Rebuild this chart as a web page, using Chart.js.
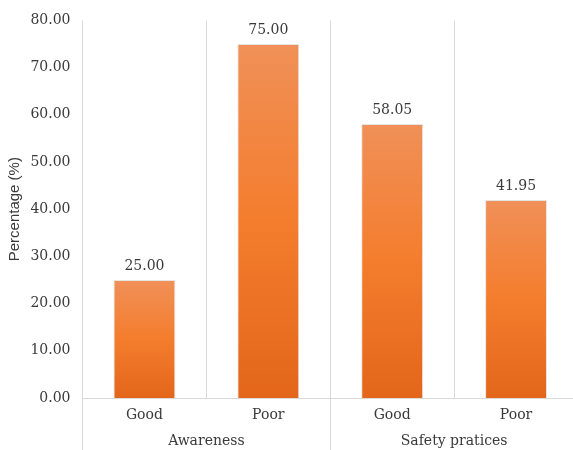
<!DOCTYPE html>
<html>
<head>
<meta charset="utf-8">
<script src="https://cdn.jsdelivr.net/npm/chart.js@4"></script>
<style>
  html, body { margin: 0; padding: 0; background: #fff; overflow: hidden; }
  #wrap { width: 578px; height: 450px; }
</style>
</head>
<body>
<div id="wrap"><canvas id="chart"></canvas></div>
<script>
const categories = ["Good", "Poor", "Good", "Poor"];
const groups = ["Awareness", "Safety pratices"];
const percentages = [25.00, 75.00, 58.05, 41.95];
const yTicks = [0, 10, 20, 30, 40, 50, 60, 70, 80];

const serif = "'DejaVu Serif', serif";
const lineColor = "#d9d9d9";
const textColor = "#3a3a3a";

// per-bar vertical gradient, light on top
function barGradient(ctx) {
    const chart = ctx.chart;
    if (!chart.chartArea) return "#f47b2a";
    const y = chart.scales.y;
    const top = y.getPixelForValue(ctx.raw);
    const bottom = y.getPixelForValue(0);
    const g = chart.ctx.createLinearGradient(0, top, 0, bottom);
    g.addColorStop(0, "#f09058");
    g.addColorStop(0.5, "#f47d2d");
    g.addColorStop(1, "#e3661b");
    return g;
}

// draw value labels above bars
const valueLabels = {
    id: "valueLabels",
    afterDatasetsDraw(chart) {
        const ctx = chart.ctx;
        const meta = chart.getDatasetMeta(0);
        ctx.save();
        ctx.font = "14px " + serif;
        ctx.fillStyle = textColor;
        ctx.textAlign = "center";
        ctx.textBaseline = "middle";
        meta.data.forEach((bar, i) => {
            ctx.fillText(percentages[i].toFixed(2), bar.x, bar.y - 14);
        });
        ctx.restore();
    }
};

// show only group separator ticks below the axis
function sepTick(ctx) {
    if (ctx.index === undefined || ctx.index % 2 === 0) return lineColor;
    return "rgba(0,0,0,0)";
}

new Chart(document.getElementById("chart"), {
    type: "bar",
    data: {
        labels: categories,
        datasets: [{
            data: percentages,
            backgroundColor: barGradient,
            borderColor: "rgba(180,180,180,0.35)",
            borderWidth: 1,
            borderSkipped: "bottom",
            barPercentage: 0.5,
            categoryPercentage: 1.0
        }]
    },
    options: {
        responsive: true,
        maintainAspectRatio: false,
        animation: false,
        layout: { padding: { top: 12, right: 0, left: 0, bottom: 0 } },
        plugins: {
            legend: { display: false },
            tooltip: { enabled: false }
        },
        scales: {
            y: {
                min: 0,
                max: 80,
                afterBuildTicks: axis => { axis.ticks = yTicks.map(v => ({ value: v })); },
                afterFit: axis => { axis.width = 82.5; },
                grid: { display: false, drawTicks: false },
                border: { display: false },
                ticks: {
                    padding: 12,
                    color: textColor,
                    font: { family: serif, size: 14 },
                    callback: v => Number(v).toFixed(2)
                },
                title: {
                    display: true,
                    text: "Percentage (%)",
                    color: textColor,
                    font: { family: "'Liberation Sans', Arial, sans-serif", size: 15 },
                    padding: { top: 6, bottom: 0 }
                }
            },
            x: {
                afterFit: axis => { axis.height = 25; },
                grid: {
                    offset: true,
                    color: lineColor,
                    tickColor: sepTick,
                    tickLength: 52
                },
                border: { display: true, color: lineColor },
                ticks: {
                    padding: -43,
                    color: textColor,
                    font: { family: serif, size: 14 }
                }
            },
            x2: {
                type: "category",
                labels: groups,
                position: "bottom",
                offset: true,
                afterFit: axis => { axis.height = 27; },
                grid: { display: false, drawTicks: false },
                border: { display: false },
                ticks: {
                    padding: 10,
                    color: textColor,
                    font: { family: serif, size: 14 }
                }
            }
        }
    },
    plugins: [valueLabels]
});
</script>
</body>
</html>
